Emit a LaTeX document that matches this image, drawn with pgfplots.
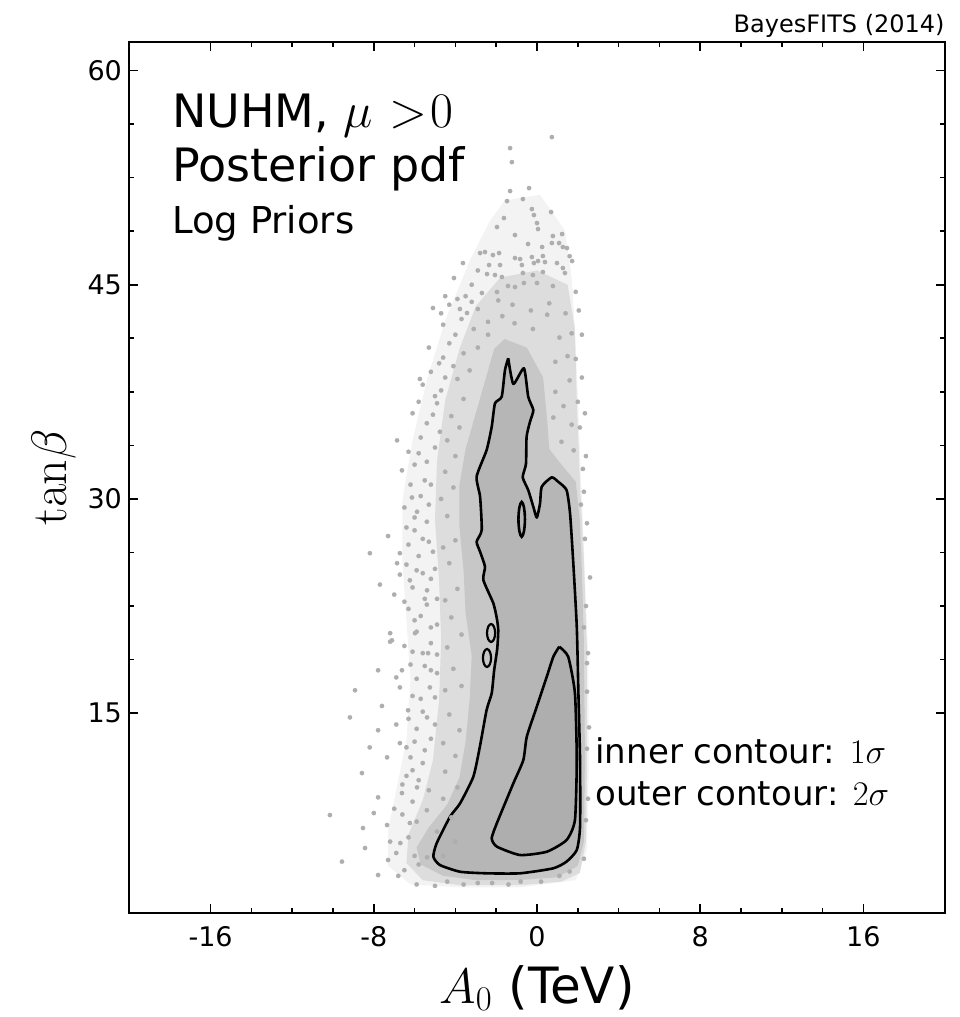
\documentclass[border=0pt]{standalone}
\usepackage[no-math]{fontspec}
\setmainfont{DejaVu Sans}
\usepackage{pgfplots}
\pgfplotsset{compat=1.18}
\definecolor{Lone}{HTML}{F3F3F3}
\definecolor{Ltwo}{HTML}{DDDDDD}
\definecolor{Lthree}{HTML}{C7C7C7}
\definecolor{Lfour}{HTML}{B6B6B6}
\definecolor{Lfive}{HTML}{AEAEAE}
\definecolor{dotc}{HTML}{AEAEAE}
\begin{document}
\begin{tikzpicture}
\begin{axis}[
  name=ax,
  scale only axis, width=408pt, height=435.5pt,
  xmin=-20, xmax=20, ymin=1, ymax=62,
  xtick={-16,-8,0,8,16}, xticklabels={-16,-8,0,8,16},
  ytick={15,30,45,60}, yticklabels={15,30,45,60},
  minor x tick num=3, minor y tick num=3,
  tick align=inside,
  major tick length=4.5pt, minor tick length=2.5pt,
  axis line style={line width=1pt},
  every tick/.style={black, line width=0.8pt},
  tick label style={font=\fontsize{13.5}{16}\selectfont},
  xticklabel style={yshift=-3pt},
  xlabel={$A_0$ (TeV)},
  xlabel style={font=\fontsize{25}{30}\selectfont, at={(axis description cs:0.5,0)}, anchor=base, yshift=-45pt},
  ylabel={$\mathrm{tan}\beta$},
  ylabel style={font=\fontsize{25}{30}\selectfont, at={(axis description cs:-0.076,0.5)}, anchor=base},
]
% light halo
\addplot[fill=Lone, draw=none] coordinates {
(-1.57,50.9) (0.15,51.3) (1.37,48.8) (1.72,45.3) (1.91,40.4) (2.11,33.4) (2.30,26.4) (2.50,19.4) (2.55,11.7) (2.45,5.4) (1.9,3.3) (-0.8,2.8) (-3.8,2.8) (-6.2,3.0) (-7.3,4.3) (-7.3,6.8) (-6.9,9.6) (-6.4,13.1) (-6.2,17.3) (-6.4,21.5) (-6.6,25.7) (-6.6,29.9) (-6.1,34.1) (-5.4,38.3) (-4.5,42.5) (-3.29,46.7) (-2.30,49.5) (-1.57,50.9)};
% moderate density
\addplot[fill=Ltwo, draw=none] coordinates {
(-1.8,45.5) (0.0,46.0) (1.5,45.0) (1.85,42) (1.95,37) (2.1,31.3) (2.3,25.7) (2.45,19.4) (2.45,11.7) (2.4,6.0) (2.1,3.8) (1.2,3.2) (-0.8,2.95) (-3.8,2.95) (-5.6,3.3) (-6.4,4.5) (-6.3,6.5) (-5.6,8.9) (-5.1,11.7) (-4.8,15.9) (-4.7,20.1) (-4.8,24.3) (-5.0,28.5) (-4.9,32.7) (-4.5,36.9) (-3.8,40.5) (-3.0,43.5) (-1.8,45.5)};
% dense
\addplot[fill=Lthree, draw=none] coordinates {
(-1.6,41.2) (-0.5,40.6) (0.3,38.5) (0.5,35.5) (0.6,33.5) (1.2,32.4) (1.9,31.2) (2.1,28.5) (2.2,25) (2.3,20) (2.35,12) (2.3,6) (2.0,4.3) (1.0,3.5) (-1.0,3.3) (-3.0,3.3) (-4.6,3.6) (-5.7,4.4) (-5.9,5.6) (-5.3,7.0) (-4.4,8.6) (-3.8,10.5) (-3.5,13) (-3.3,16) (-3.2,19) (-3.5,22) (-3.6,25) (-3.8,28) (-3.8,31) (-3.5,33.5) (-3.0,36) (-2.5,38.5) (-2.1,40.5) (-1.6,41.2)};
% scatter dots
\addplot[color=dotc, only marks, mark=*, mark size=1.1pt, mark options={solid, draw=dotc, fill=dotc, line width=0.1pt}] coordinates {
(0.73,55.34) (-1.32,54.57) (-1.23,53.59) (-1.32,51.56) (-0.39,51.77) (-1.47,50.86) (-0.69,51.0) (-0.25,50.3) (-0.15,49.88) (0.69,50.09) (-1.62,49.67) (-1.96,49.04) (0.0,49.32) (0.05,48.9) (-1.08,48.48) (0.78,48.41) (1.23,48.55)
(-0.44,47.85) (0.25,47.64) (0.73,47.92) (1.08,47.92) (1.27,47.64) (1.47,47.57) (-2.79,47.22) (-2.55,47.29) (-2.16,47.08) (-1.86,47.22) (-3.63,46.52) (-1.08,46.87) (-0.83,46.8) (-0.25,46.94) (0.29,47.01) (-0.15,46.52) (0.05,46.66) (0.39,46.59) (-0.74,46.38) (-2.35,46.38) (-1.81,46.38) (0.98,46.52) (1.72,46.66) (1.27,46.17)
(-4.07,45.47) (-2.45,45.75) (-2.06,45.68) (-1.72,45.54) (-0.69,45.82) (-0.20,45.68) (0.29,45.89) (1.37,45.82) (-0.64,45.12) (0.0,45.12) (0.78,44.91) (-1.08,44.84) (-1.42,44.91) (-5.10,43.37) (-3.78,43.30) (-3.43,43.02) (-2.70,44.42) (-1.96,44.49)
(1.6,47.0) (1.9,44.5) (-3.2,45.0) (-2.9,46.0) (-4.5,44.2) (-3.9,44.0) (-4.7,43.0)
(-4.6,42.2) (-4.0,41.5) (-3.7,42.6) (-3.1,41.9) (-2.9,43.3) (-2.4,42.4) (-1.7,42.8) (-1.2,43.6) (-0.3,43.2) (0.6,43.7) (1.4,43.0) (1.7,41.6) (1.9,39.8) (-5.3,40.6) (-4.8,39.5) (-4.3,40.9) (-5.6,38.0) (-5.0,37.2) (-4.5,38.5) (-5.74,38.4) (-4.9,36.7) (-5.4,35.3) (-4.76,34.7) (-6.86,34.1) (-6.62,32.0) (-6.13,30.1) (-5.88,29.1) (-8.19,26.2) (-6.72,26.2) (-6.1,36.0) (-5.8,33.2) (-5.5,31.3) (-6.4,28.0) (-5.6,27.2) (-5.9,25.0) (-7.3,27.4) (-7.7,24.0) (-6.86,25.5) (-6.72,24.7) (-6.23,24.3) (-5.39,23.6) (-7.2,20.6) (-7.2,20.0) (-5.9,20.7) (-5.4,22.6) (-6.5,22.8) (-7.0,23.3) (-5.7,21.8) (-6.1,19.3) (-5.2,19.9)
(2.45,28.3) (2.5,19.2) (2.45,18.5) (2.35,36.0) (2.2,41.5) (2.6,24.5) (2.55,14.0) (2.5,9.0) (2.4,33.0) (2.3,30.5) (2.05,43.2)
(-8.92,16.6) (-9.17,14.7) (-8.58,10.8) (-8.53,6.95) (-8.43,5.55) (-7.79,18.0) (-7.79,13.8) (-7.79,9.1) (-7.79,3.66) (-7.35,11.9) (-7.35,7.16) (-7.30,4.71) (-7.11,20.1) (-6.72,16.8) (-6.62,18.0) (-6.72,12.9) (-6.62,9.4) (-6.32,15.2) (-6.23,7.3) (-5.98,20.6) (-5.88,9.8) (-5.39,14.7) (-5.34,19.2) (-5.25,16.8) (-4.90,17.8) (-5.39,4.9) (-10.15,7.86) (-9.56,4.6)
(-6.9,14.2) (-6.0,13.0) (-5.6,11.5) (-6.4,10.6) (-7.0,8.3) (-6.7,5.9) (-6.0,5.0) (-6.8,3.6) (-5.9,3.0) (-5.0,2.9) (-4.4,3.2) (-3.6,3.0) (-2.9,3.1) (-2.2,3.1) (-1.4,3.0) (-0.8,3.2) (0.2,3.2) (1.1,3.6) (1.6,3.9) (-6.2,11.9) (-5.7,16.0) (-5.5,18.3) (-6.9,17.5) (-7.6,15.5) (-8.2,12.6) (-8.0,8.0) (-7.2,6.0) (-6.5,19.7) (-4.9,21.2) (-5.2,24.4) (-5.1,26.3) (-5.3,29.6) (-6.0,27.8)
(-6.5,4.0) (-5.8,4.4) (-6.9,5.2) (-6.3,6.3) (-5.9,7.4) (-6.6,7.9) (-5.4,8.2) (-6.1,8.8) (-6.6,10.0) (-5.8,10.3) (-5.3,9.6) (-6.1,11.0) (-5.5,12.4) (-6.4,12.6) (-5.2,13.2) (-5.9,13.9) (-6.3,14.6) (-5.0,14.2) (-5.6,15.1) (-6.1,16.2) (-5.0,16.1) (-5.9,17.4) (-5.2,18.0) (-6.2,18.4) (-5.6,19.2) (-4.9,19.1) (-6.0,21.5) (-5.2,21.0) (-6.3,22.3) (-5.5,23.0) (-4.9,23.0) (-6.1,23.8) (-5.6,24.8) (-6.4,25.4) (-5.0,25.1) (-5.8,26.0) (-6.3,26.8) (-5.3,27.0) (-6.0,28.7) (-5.4,28.4) (-6.5,29.4) (-5.7,30.2) (-6.2,31.0) (-5.2,31.0) (-6.0,32.4) (-5.4,32.6) (-6.3,33.3) (-5.0,33.6) (-5.7,34.3) (-5.1,35.9) (-5.8,36.8) (-4.7,37.6) (-5.2,38.9) (-4.6,39.9) (-4.1,39.3) (-4.3,43.6) (-3.5,44.2) (-3.2,43.8)
(2.2,38.5) (2.1,35.0) (2.25,32.1) (2.35,27.2) (2.4,22.5) (2.45,16.5) (2.45,12.5) (2.4,7.5) (2.3,4.8) (2.0,36.8) (2.15,29.6) (2.3,21.0)
(-4.6,5.0) (-4.0,6.0) (-4.9,6.7) (-4.2,7.7) (-4.6,9.0) (-3.9,9.8) (-4.5,10.9) (-4.0,12.0) (-4.6,12.9) (-3.8,13.8) (-4.3,14.9) (-4.5,16.6) (-3.7,16.9) (-4.1,18.1) (-4.4,19.6) (-3.7,20.5) (-4.2,21.7) (-4.5,22.9) (-3.9,23.7) (-4.3,25.5) (-4.6,26.6) (-4.0,27.1) (-4.4,28.8) (-4.7,30.0) (-4.1,30.8) (-4.5,31.9) (-4.0,33.0) (-4.4,34.1) (-3.8,35.0) (-4.2,35.8) (-3.6,37.0) (-3.9,38.4) (-3.3,39.0) (-3.6,40.2) (-2.9,40.6)
(-2.4,41.5) (-1.9,43.9) (-1.1,42.3) (-0.2,41.9) (0.5,42.9) (1.1,41.3) (1.5,40.0) (0.9,39.6) (1.6,38.3) (1.3,36.5) (0.9,37.5) (1.7,35.2) (1.2,34.0) (1.8,33.4) (0.8,35.7)
};
% outer contour interior
\addplot[fill=Lfour, draw=none, smooth, tension=0.35] coordinates {
(-1.41,39.85) (-1.16,38.05) (-0.64,39.15) (-0.43,37.16) (-0.18,36.22) (-0.34,35.42) (-0.51,34.35) (-0.54,32.45) (-0.70,31.52) (-0.43,30.62) (-0.18,29.45) (-0.01,28.69) (0.15,29.69) (0.23,30.85) (0.72,31.51) (1.04,31.20) (1.45,30.62) (1.62,28.99) (1.78,25.49) (1.95,21.05) (2.03,16.39) (2.11,11.71) (2.11,7.04) (1.95,5.41) (1.45,4.60) (0.80,4.13) (-0.83,3.78) (-2.47,3.78) (-3.77,3.89) (-4.76,4.36) (-5.08,4.94) (-4.92,5.88) (-4.26,7.75) (-3.77,8.68) (-3.12,10.55) (-2.80,12.65) (-2.47,15.22) (-2.22,16.39) (-2.10,18.0) (-1.95,19.5) (-1.90,20.8) (-1.97,21.64) (-2.14,22.69) (-2.63,24.32) (-2.55,25.25) (-2.79,26.30) (-2.96,27.0) (-2.71,27.82) (-2.79,30.15) (-2.96,31.56) (-2.47,33.42) (-2.22,35.05) (-2.06,36.69) (-1.73,37.16) (-1.57,39.02) (-1.41,39.85)};
% inner contour interior
\addplot[fill=Lfive, draw=none, smooth, tension=0.35] coordinates {
(1.09,19.65) (1.53,18.95) (1.86,16.39) (1.95,11.71) (1.86,7.51) (1.45,6.11) (0.48,5.29) (-0.83,5.06) (-1.97,5.65) (-2.22,6.23) (-1.97,7.28) (-1.16,10.08) (-0.67,11.71) (-0.50,13.35) (-0.01,15.45) (0.48,17.55) (0.80,18.95) (1.09,19.65)};
% outer contour line
\addplot[black, line width=1.3pt, line join=round, smooth, tension=0.35] coordinates {
(-1.41,39.85) (-1.16,38.05) (-0.64,39.15) (-0.43,37.16) (-0.18,36.22) (-0.34,35.42) (-0.51,34.35) (-0.54,32.45) (-0.70,31.52) (-0.43,30.62) (-0.18,29.45) (-0.01,28.69) (0.15,29.69) (0.23,30.85) (0.72,31.51) (1.04,31.20) (1.45,30.62) (1.62,28.99) (1.78,25.49) (1.95,21.05) (2.03,16.39) (2.11,11.71) (2.11,7.04) (1.95,5.41) (1.45,4.60) (0.80,4.13) (-0.83,3.78) (-2.47,3.78) (-3.77,3.89) (-4.76,4.36) (-5.08,4.94) (-4.92,5.88) (-4.26,7.75) (-3.77,8.68) (-3.12,10.55) (-2.80,12.65) (-2.47,15.22) (-2.22,16.39) (-2.10,18.0) (-1.95,19.5) (-1.90,20.8) (-1.97,21.64) (-2.14,22.69) (-2.63,24.32) (-2.55,25.25) (-2.79,26.30) (-2.96,27.0) (-2.71,27.82) (-2.79,30.15) (-2.96,31.56) (-2.47,33.42) (-2.22,35.05) (-2.06,36.69) (-1.73,37.16) (-1.57,39.02) (-1.41,39.85)};
% small islands of the outer contour
\addplot[black, line width=1.3pt, smooth cycle, tension=0.6] coordinates {
(-0.59,28.57) (-0.64,29.42) (-0.75,29.79) (-0.86,29.42) (-0.91,28.57) (-0.86,27.72) (-0.75,27.35) (-0.64,27.72)};
\addplot[black, line width=1.1pt, smooth cycle, tension=0.6] coordinates {
(-2.05,20.61) (-2.11,21.05) (-2.25,21.24) (-2.39,21.05) (-2.45,20.61) (-2.39,20.17) (-2.25,19.98) (-2.11,20.17)};
\addplot[black, line width=1.1pt, smooth cycle, tension=0.6] coordinates {
(-2.25,18.86) (-2.31,19.30) (-2.45,19.49) (-2.59,19.30) (-2.65,18.86) (-2.59,18.42) (-2.45,18.23) (-2.31,18.42)};
% inner contour line
\addplot[black, line width=1.3pt, line join=round, smooth, tension=0.35] coordinates {
(1.09,19.65) (1.53,18.95) (1.86,16.39) (1.95,11.71) (1.86,7.51) (1.45,6.11) (0.48,5.29) (-0.83,5.06) (-1.97,5.65) (-2.22,6.23) (-1.97,7.28) (-1.16,10.08) (-0.67,11.71) (-0.50,13.35) (-0.01,15.45) (0.48,17.55) (0.80,18.95) (1.09,19.65)};
% texts
\node[anchor=base west, font=\fontsize{23}{27}\selectfont, inner sep=0pt] at (axis cs:-17.9,56.0) {NUHM, $\mu\mkern6mu{>}\mkern1mu0$};
\node[anchor=base west, font=\fontsize{23}{27}\selectfont, inner sep=0pt] at (axis cs:-17.9,52.2) {Posterior pdf};
\node[anchor=base west, font=\fontsize{18.5}{22}\selectfont, inner sep=0pt] at (axis cs:-17.9,48.6) {Log Priors};
\node[anchor=base west, font=\fontsize{17}{20}\selectfont, inner sep=0pt] at (axis cs:2.85,11.5) {inner contour: $1\sigma$};
\node[anchor=base west, font=\fontsize{17}{20}\selectfont, inner sep=0pt] at (axis cs:2.85,8.56) {outer contour: $2\sigma$};
\end{axis}
\node[anchor=base east, font=\fontsize{12}{14}\selectfont, inner sep=0pt] at ([yshift=4.5pt]ax.north east) {BayesFITS (2014)};
\pgfresetboundingbox
\path ([xshift=-64.5pt,yshift=-52pt]ax.south west) rectangle ([xshift=7.5pt,yshift=21pt]ax.north east);
\end{tikzpicture}
\end{document}
